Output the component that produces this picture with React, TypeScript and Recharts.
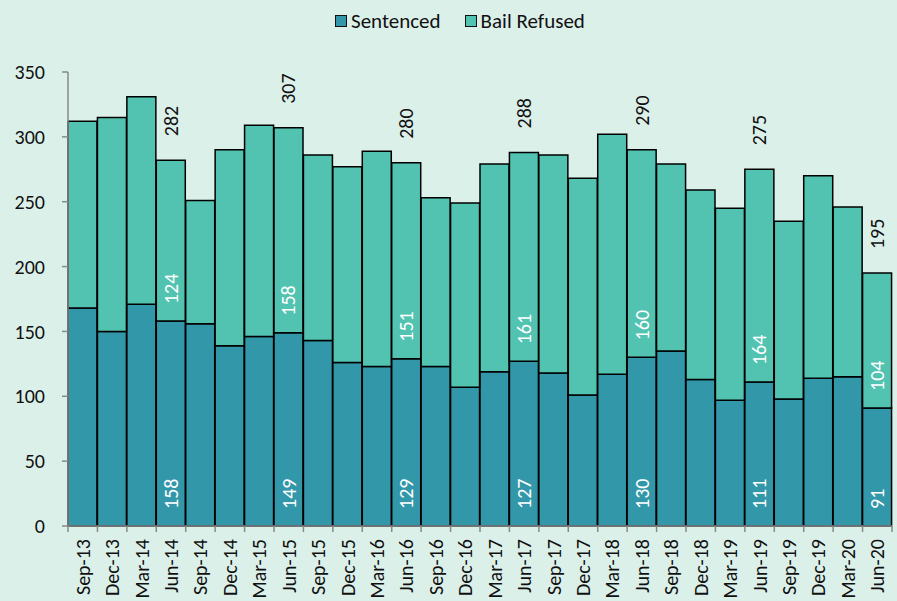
import { BarChart, Bar, XAxis, YAxis, LabelList } from 'recharts';

const quarters = [
  'Sep-13', 'Dec-13', 'Mar-14', 'Jun-14', 'Sep-14', 'Dec-14', 'Mar-15', 'Jun-15',
  'Sep-15', 'Dec-15', 'Mar-16', 'Jun-16', 'Sep-16', 'Dec-16', 'Mar-17', 'Jun-17',
  'Sep-17', 'Dec-17', 'Mar-18', 'Jun-18', 'Sep-18', 'Dec-18', 'Mar-19', 'Jun-19',
  'Sep-19', 'Dec-19', 'Mar-20', 'Jun-20',
];

const sentenced = [
  168, 150, 171, 158, 156, 139, 146, 149,
  143, 126, 123, 129, 123, 107, 119, 127,
  118, 101, 117, 130, 135, 113, 97, 111,
  98, 114, 115, 91,
];

const bailRefused = [
  144, 165, 160, 124, 95, 151, 163, 158,
  143, 151, 166, 151, 130, 142, 160, 161,
  168, 167, 185, 160, 144, 146, 148, 164,
  137, 156, 131, 104,
];

// quarters that get value labels in the original
const labelledQuarters = ['Jun-14', 'Jun-15', 'Jun-16', 'Jun-17', 'Jun-18', 'Jun-19', 'Jun-20'];

const yTicks = [0, 50, 100, 150, 200, 250, 300, 350];

const data = quarters.map((q, i) => ({
  quarter: q,
  sentenced: sentenced[i],
  bailRefused: bailRefused[i],
  total: sentenced[i] + bailRefused[i],
}));

const FONT = 'Carlito, Lato, sans-serif';
const SENT_COLOR = '#3397AA';
const BAIL_COLOR = '#52C2B1';
const AXIS_COLOR = '#888888';

const W = 897;
const H = 601;
const M = { top: 72, right: 5, left: 0, bottom: 0 };
const Y_AXIS_W = 68;
const bandWidth = (W - M.left - M.right - Y_AXIS_W) / quarters.length;

const QuarterTick = (props: any) => {
  const { x, y, payload, index } = props;
  const axisY = y - 8;
  const left = x - bandWidth / 2;
  const ty = axisY + 13;
  return (
    <g>
      <line x1={left} y1={axisY} x2={left} y2={axisY + 6} stroke={AXIS_COLOR} strokeWidth={1.5} />
      {index === quarters.length - 1 && (
        <line x1={x + bandWidth / 2} y1={axisY} x2={x + bandWidth / 2} y2={axisY + 6} stroke={AXIS_COLOR} strokeWidth={1.5} />
      )}
      <text
        x={x}
        y={ty}
        transform={`rotate(-90, ${x}, ${ty})`}
        textAnchor="end"
        dominantBaseline="central"
        fontFamily={FONT}
        fontSize={20}
        fill="#111"
      >
        {payload.value}
      </text>
    </g>
  );
};

const baseLabel = (cx: number, cy: number, text: any, fill: string) => (
  <text
    x={cx}
    y={cy}
    transform={`rotate(-90, ${cx}, ${cy})`}
    textAnchor="start"
    dominantBaseline="central"
    fontFamily={FONT}
    fontSize={20}
    fill={fill}
  >
    {text}
  </text>
);

const SentencedLabel = (props: any) => {
  const { x, y, width, height, index } = props;
  if (!labelledQuarters.includes(quarters[index])) return null;
  const cx = x + width / 2;
  return baseLabel(cx, y + height - 17, sentenced[index], '#ffffff');
};

const BailLabel = (props: any) => {
  const { x, y, width, height, index } = props;
  if (!labelledQuarters.includes(quarters[index])) return null;
  const cx = x + width / 2;
  return (
    <g>
      {baseLabel(cx, y + height - 17, bailRefused[index], '#ffffff')}
      {baseLabel(cx, y - 24, sentenced[index] + bailRefused[index], '#111')}
    </g>
  );
};

const LegendItem = ({ color, label }: { color: string; label: string }) => (
  <div style={{ display: 'flex', alignItems: 'center', marginRight: 24 }}>
    <div style={{ width: 10, height: 10, background: color, border: '1.5px solid #111', marginRight: 4 }} />
    <span>{label}</span>
  </div>
);

export default function App() {
  return (
    <div style={{ position: 'fixed', left: 0, top: 0, width: W, height: H, background: '#DCF0EA' }}>
      <div
        style={{
          position: 'absolute',
          top: 10,
          left: 335,
          display: 'flex',
          fontFamily: FONT,
          fontSize: 21,
          lineHeight: '22px',
          color: '#111',
        }}
      >
        <LegendItem color={SENT_COLOR} label="Sentenced" />
        <LegendItem color={BAIL_COLOR} label="Bail Refused" />
      </div>
      <BarChart width={W} height={H} data={data} margin={M} barCategoryGap={0}>
        <XAxis
          dataKey="quarter"
          interval={0}
          height={H - 526 - M.bottom}
          tickLine={false}
          tickSize={6}
          tickMargin={2}
          axisLine={{ stroke: AXIS_COLOR, strokeWidth: 1.5 }}
          tick={<QuarterTick />}
        />
        <YAxis
          width={Y_AXIS_W}
          domain={[0, 350]}
          ticks={yTicks}
          interval={0}
          tickSize={6}
          tickMargin={17}
          axisLine={{ stroke: AXIS_COLOR, strokeWidth: 1.5 }}
          tickLine={{ stroke: AXIS_COLOR, strokeWidth: 1.5 }}
          tick={{ fill: '#111', fontSize: 20, fontFamily: FONT }}
        />
        <Bar dataKey="sentenced" stackId="a" fill={SENT_COLOR} stroke="#000" strokeWidth={1.5} isAnimationActive={false}>
          <LabelList dataKey="sentenced" content={<SentencedLabel />} />
        </Bar>
        <Bar dataKey="bailRefused" stackId="a" fill={BAIL_COLOR} stroke="#000" strokeWidth={1.5} isAnimationActive={false}>
          <LabelList dataKey="bailRefused" content={<BailLabel />} />
        </Bar>
      </BarChart>
    </div>
  );
}
